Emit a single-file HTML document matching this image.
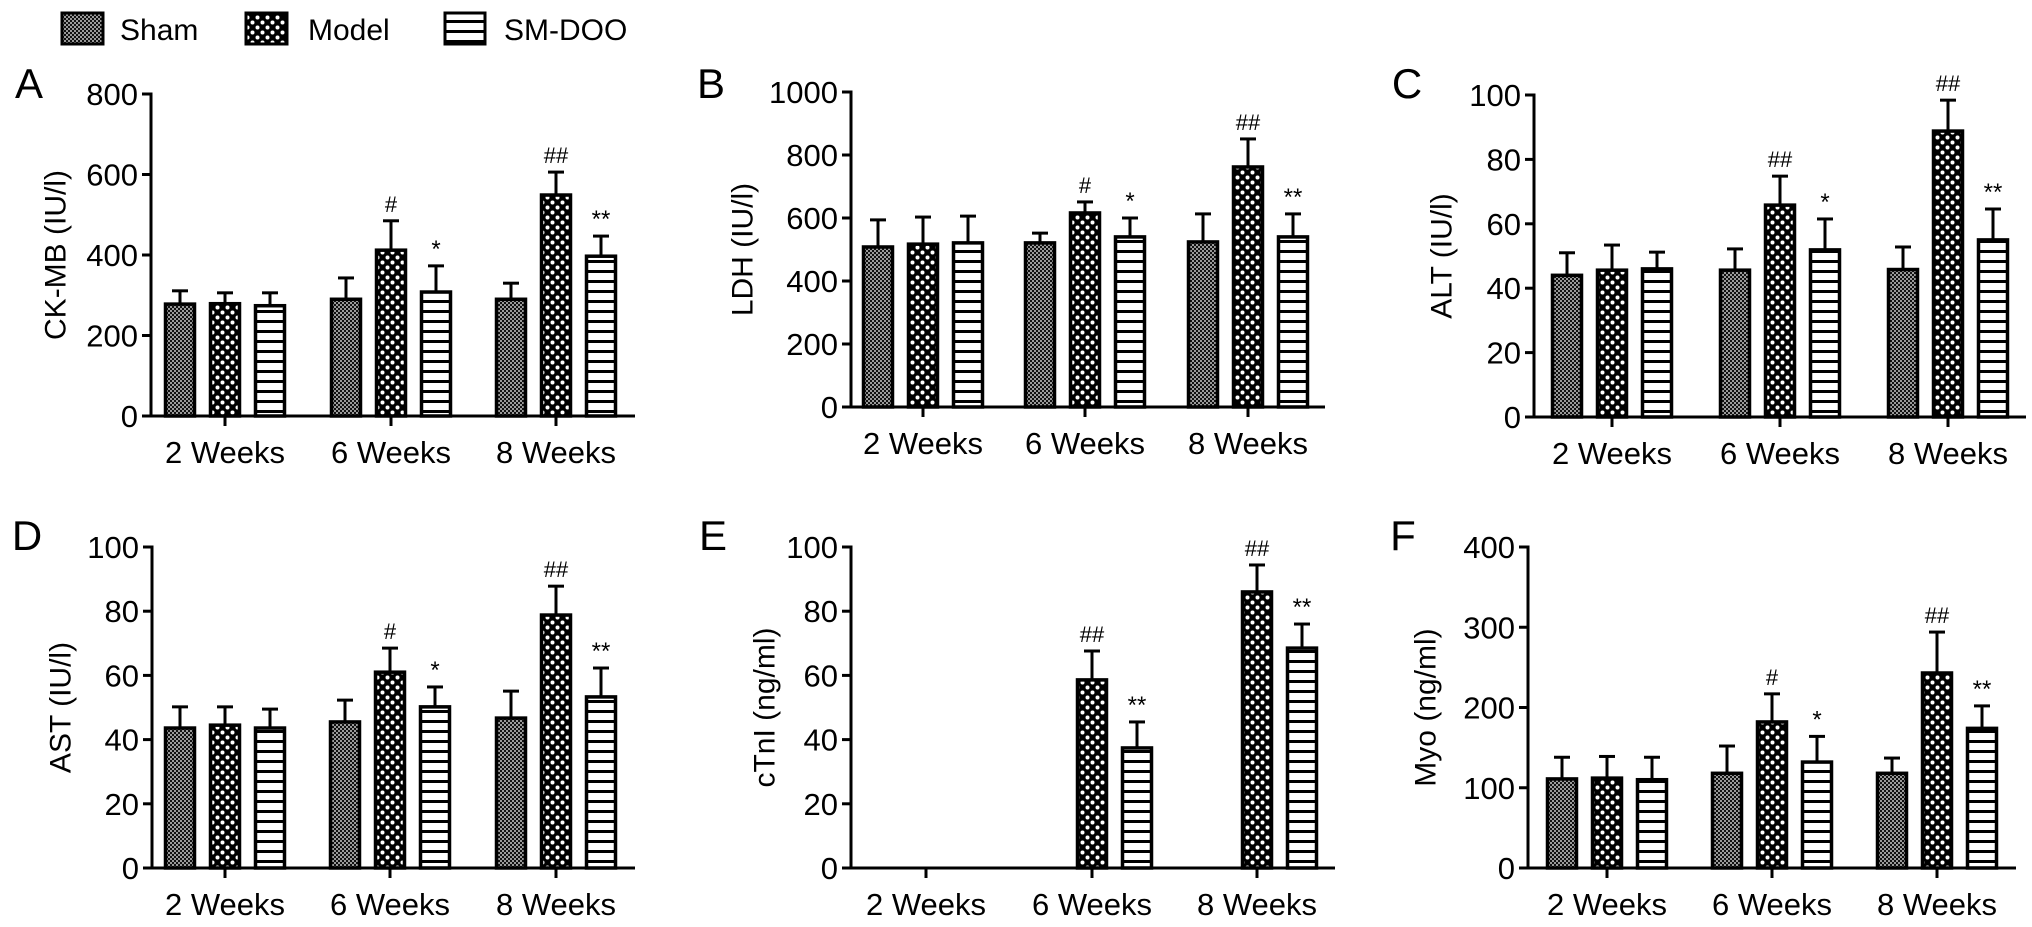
<!DOCTYPE html>
<html><head><meta charset="utf-8"><style>
html,body{margin:0;padding:0;background:#fff;}
svg{display:block;font-family:"Liberation Sans",Arial,sans-serif;}
</style></head><body>
<svg id="fig" width="2032" height="927" viewBox="0 0 2032 927" xmlns="http://www.w3.org/2000/svg">
<defs>
<pattern id="pSham" patternUnits="userSpaceOnUse" width="4" height="4"><rect width="4" height="4" fill="#111"/><rect x="0" y="0" width="2" height="2" fill="#9a9a9a"/><rect x="2" y="2" width="2" height="2" fill="#9a9a9a"/></pattern>
<pattern id="pModel" patternUnits="userSpaceOnUse" width="10" height="10"><rect width="10" height="10" fill="#000"/><circle cx="2.5" cy="2.5" r="2" fill="#fff"/><circle cx="7.5" cy="7.5" r="2" fill="#fff"/></pattern>
<pattern id="pSM" patternUnits="userSpaceOnUse" width="10" height="10"><rect width="10" height="10" fill="#fff"/><rect x="0" y="0" width="10" height="3" fill="#000"/></pattern>
</defs>
<g id="legend">
<rect x="62" y="13" width="41" height="31" fill="url(#pSham)" stroke="#000" stroke-width="3"/>
<text x="120" y="40" font-size="30">Sham</text>
<rect x="246" y="13" width="41" height="31" fill="url(#pModel)" stroke="#000" stroke-width="3"/>
<text x="308" y="40" font-size="30">Model</text>
<rect x="445" y="13" width="40" height="31" fill="url(#pSM)" stroke="#000" stroke-width="3"/>
<text x="504" y="40" font-size="30">SM-DOO</text>
</g>
</svg>
<script>
const categories = ["2 Weeks","6 Weeks","8 Weeks"];
const seriesNames = ["Sham","Model","SM-DOO"];
// values [series][category], errors = upper cap value
const ckmbMean = [[278,290,290],[279,412,549],[274,308,397]];
const ckmbErr  = [[311,343,330],[306,485,606],[306,373,447]];
const ckmbSig  = [["","",""],["","#","##"],["","*","**"]];
const ldhMean = [[508,521,524],[517,616,762],[521,540,540]];
const ldhErr  = [[594,552,613],[603,651,851],[606,600,613]];
const ldhSig  = [["","",""],["","#","##"],["","*","**"]];
const altMean = [[44,45.6,45.8],[45.6,65.8,88.8],[46,51.9,55]];
const altErr  = [[51,52.2,52.8],[53.4,74.8,98.4],[51.2,61.5,64.6]];
const altSig  = [["","",""],["","##","##"],["","*","**"]];
const astMean = [[43.6,45.5,46.7],[44.5,61,78.8],[43.6,50.2,53.3]];
const astErr  = [[50.2,52.3,55.1],[50.2,68.5,87.8],[49.5,56.4,62.3]];
const astSig  = [["","",""],["","#","##"],["","*","**"]];
const ctniMean = [[0,0,0],[0,58.6,86],[0,37.4,68.5]];
const ctniErr  = [[0,0,0],[0,67.6,94.4],[0,45.5,76]];
const ctniSig  = [["","",""],["","##","##"],["","**","**"]];
const myoMean = [[111,118,118],[112,182,243],[110,132,174]];
const myoErr  = [[138,152,137],[139,217,294],[138,164,202]];
const myoSig  = [["","",""],["","#","##"],["","*","**"]];
const ticksA = [0,200,400,600,800];
const ticksB = [0,200,400,600,800,1000];
const ticks100 = [0,20,40,60,80,100];
const ticksF = [0,100,200,300,400];

const NS="http://www.w3.org/2000/svg";
const svg=document.getElementById('fig');
const fills=["url(#pSham)","url(#pModel)","url(#pSM)"];
function mk(tag,attrs,parent){const e=document.createElementNS(NS,tag);for(const k in attrs)e.setAttribute(k,attrs[k]);parent.appendChild(e);return e;}

const panels=[
 {id:"a",letter:"A",lx:29,ly:98,title:"CK-MB (IU/l)",tx:56,ax:151,y0:416,yt:94,xe:635,ct:[225,391,556],ticks:ticksA,mean:ckmbMean,err:ckmbErr,sig:ckmbSig},
 {id:"b",letter:"B",lx:711,ly:98,title:"LDH (IU/l)",tx:743,ax:851,y0:407,yt:92,xe:1325,ct:[923,1085,1248],ticks:ticksB,mean:ldhMean,err:ldhErr,sig:ldhSig},
 {id:"c",letter:"C",lx:1407,ly:98,title:"ALT (IU/l)",tx:1442,ax:1534,y0:417,yt:95,xe:2026,ct:[1612,1780,1948],ticks:ticks100,mean:altMean,err:altErr,sig:altSig},
 {id:"d",letter:"D",lx:27,ly:550,title:"AST (IU/l)",tx:61,ax:152,y0:868,yt:547,xe:635,ct:[225,390,556],ticks:ticks100,mean:astMean,err:astErr,sig:astSig},
 {id:"e",letter:"E",lx:713,ly:550,title:"cTnI (ng/ml)",tx:765,ax:851,y0:868,yt:547,xe:1335,ct:[926,1092,1257],ticks:ticks100,mean:ctniMean,err:ctniErr,sig:ctniSig},
 {id:"f",letter:"F",lx:1403,ly:550,title:"Myo (ng/ml)",tx:1426,ax:1528,y0:868,yt:547,xe:2016,ct:[1607,1772,1937],ticks:ticksF,mean:myoMean,err:myoErr,sig:myoSig}
];

panels.forEach(p=>{
 const g=mk('g',{},svg);
 
 
 const max=p.ticks[p.ticks.length-1];
 const y=v=>p.y0-(v/max)*(p.y0-p.yt);
 const lt=mk('text',{x:p.lx,y:p.ly,'font-size':42,'text-anchor':'middle'},g);lt.textContent=p.letter;
 
 
 const cy=(p.y0+p.yt)/2;
 const tt=mk('text',{x:p.tx,y:cy,'font-size':30,'text-anchor':'middle','dominant-baseline':'central',transform:`rotate(-90 ${p.tx} ${cy})`},g);tt.textContent=p.title;
 
 
 // bars
 for(let s=0;s<3;s++){for(let c=0;c<3;c++){
  const v=p.mean[s][c];if(v<=0)continue;
  const cx=p.ct[c]+(s-1)*45;
  const e=p.err[s][c];
  const el=mk('line',{x1:cx,x2:cx,y1:y(v),y2:y(e),stroke:'#000','stroke-width':3},g);
  
  
  const cap=mk('line',{x1:cx-8,x2:cx+8,y1:y(e),y2:y(e),stroke:'#000','stroke-width':3},g);
  
  
  const r=mk('rect',{x:cx-14.5,y:y(v),width:29,height:p.y0-y(v),fill:fills[s],stroke:'#000','stroke-width':3.5},g);
  
  
  const sg=p.sig[s][c];
  if(sg){const st=mk('text',{x:cx,y:y(e)-9,'font-size':sg.includes('*')?24:22,'text-anchor':'middle'},g);st.textContent=sg;
   
   }
 }}
 // axes
 const ya=mk('line',{x1:p.ax,x2:p.ax,y1:p.yt-1.5,y2:p.y0+1.5,stroke:'#000','stroke-width':3},g);
 
 
 const xa=mk('line',{x1:p.ax-1.5,x2:p.xe,y1:p.y0,y2:p.y0,stroke:'#000','stroke-width':3},g);
 
 
 p.ticks.forEach(t=>{
  mk('line',{x1:p.ax-9,x2:p.ax,y1:y(t),y2:y(t),stroke:'#000','stroke-width':3},g);
  const tl=mk('text',{x:p.ax-13,y:y(t)+11,'font-size':31,'text-anchor':'end'},g);tl.textContent=t;
  
  
 });
 categories.forEach((c,i)=>{
  mk('line',{x1:p.ct[i],x2:p.ct[i],y1:p.y0,y2:p.y0+10,stroke:'#000','stroke-width':3},g);
  const xl=mk('text',{x:p.ct[i],y:p.y0+47,'font-size':31,'text-anchor':'middle'},g);xl.textContent=c;
  
  
 });
});
</script>
</body></html>
